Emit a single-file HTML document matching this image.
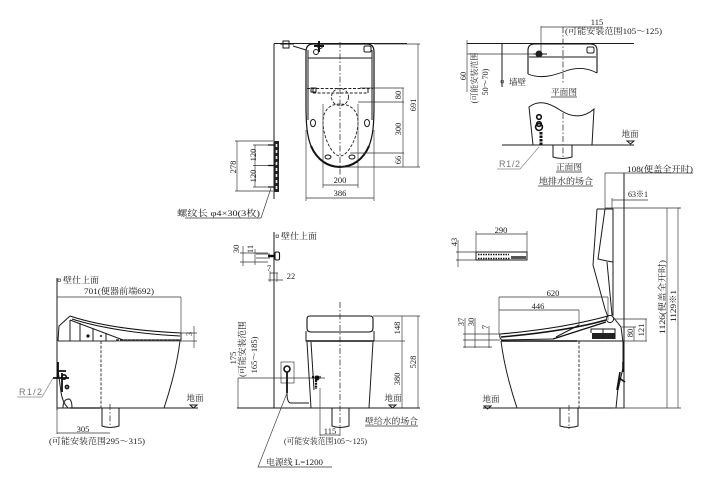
<!DOCTYPE html>
<html lang="zh"><head><meta charset="utf-8"><style>
html,body{margin:0;padding:0;background:#fff}
svg{display:block}
text{font-family:"Liberation Serif","Noto Serif CJK SC",serif;font-size:8.5px;fill:#1a1a1a}
.m{text-anchor:middle}
.g{font-family:"Liberation Sans",sans-serif;fill:#777;font-size:9px}
.d{stroke:#333;stroke-width:.65;fill:none}
.o{stroke:#1a1a1a;stroke-width:1;fill:none}
.t{stroke:#111;stroke-width:1.6;fill:none}
.c{stroke:#333;stroke-width:.8;fill:none;stroke-dasharray:6 2 1.5 2}
.h{stroke:#222;stroke-width:.9;fill:none;stroke-dasharray:3 1.6}
.k{fill:#111;stroke:none}
</style></head><body>
<svg width="712" height="487" viewBox="0 0 712 487" xmlns="http://www.w3.org/2000/svg">
<rect width="712" height="487" fill="#fff"/>

<!-- TOP PLAN -->
<path class="o" d="M274 43.5H407M274 43.5V199"/>
<path class="t" d="M306 52Q306 44 313 44H367Q374 44 374 52V105C374 124 373 136 369 146C363 160 352 167 340 167C328 167 317 160 311 146C307 136 306 124 306 105Z" style="stroke-width:1.2"/>
<path class="t" d="M311 146C317 160 328 167 340 167C352 167 363 160 369 146" style="stroke-width:2"/>
<path class="o" d="M308 50V120M372 50V120M308 58H372"/>
<path class="h" d="M307 88.5H373M313 93H368"/>
<path class="o" d="M313 88V93M368 88V93M311 88h5v4h-5z"/>
<circle cx="340" cy="97" r="8.5" class="h"/>
<path class="h" d="M340 104C329 104 323 111 323 122C323 137 332 156 340 156C348 156 358 137 358 122C358 111 351 104 340 104Z"/>
<ellipse cx="313" cy="123" rx="2.5" ry="3.6" class="o"/><ellipse cx="367" cy="123" rx="2.5" ry="3.6" class="o"/>
<ellipse cx="328" cy="157" rx="3" ry="2" class="o"/><ellipse cx="352" cy="157" rx="3" ry="2" class="o"/>
<rect x="364" y="46" width="7" height="6" rx="1.5" class="o"/>
<path class="c" d="M340 42V176"/>
<path class="t" d="M319 41V52M314 46H324" style="stroke-width:2"/><circle cx="316" cy="52" r="2.5" class="o"/><circle cx="320" cy="46" r="2.5" class="o"/>
<path class="o" d="M283 41h6v7h-6zM280 44H294M293 46L306 50"/>
<path class="d" d="M360 88H404M358 102H404M350 153H404M340 167H420M374 44H420"/>
<path class="d" d="M403 88V167M418 44V167M323 104V188M358 104V188M306 130V201M374 130V201"/>
<path class="d" d="M323 185H358M306 198H374"/>
<text x="340" y="183" class="m">200</text><text x="340" y="196" class="m">386</text>
<text class="m" transform="translate(401 95) rotate(-90)">80</text>
<text class="m" transform="translate(401 129) rotate(-90)">300</text>
<text class="m" transform="translate(401 160) rotate(-90)">66</text>
<text class="m" transform="translate(416 105) rotate(-90)">691</text>
<text class="m" transform="translate(236 167) rotate(-90)">278</text>
<text class="m" transform="translate(256 155) rotate(-90)">120</text>
<text class="m" transform="translate(256 176) rotate(-90)">120</text>
<rect x="274" y="141" width="5" height="51" fill="#222"/>
<path d="M276.5 144v3M276.5 150v3M276.5 156v3M276.5 162v3M276.5 168v3M276.5 174v3M276.5 180v3M276.5 186v3" stroke="#eee" stroke-width="1.6"/>
<path class="t" d="M268 145H274M268 165.5H274M268 187H274" style="stroke-width:1.2"/>
<path class="d" d="M235 141H273M235 191H273M253 145H268M253 165.5H268M253 187H268"/>
<path class="d" d="M237 141V191M255 145V187"/>
<text x="177" y="216" textLength="83" lengthAdjust="spacingAndGlyphs">螺纹长 φ4×30(3枚)</text>
<path class="d" d="M185 218H261L271 188"/>

<!-- PLAN RIGHT -->
<path class="o" d="M467 43.5H634M502 43.5V87"/>
<rect x="501" y="80.5" width="2.4" height="2.4" class="d"/>
<text x="509" y="85">墙壁</text>
<path class="t" d="M528 74V50Q528 44 535 44H590Q597 44 597 50V73" style="stroke-width:1.1"/>
<path class="t" d="M528 74C540 79 552 76 563 72C575 67 586 67 597 73" style="stroke-width:.9"/>
<path class="o" d="M529 57H596"/>
<rect x="587" y="47" width="7" height="6" rx="1.5" class="o"/>
<circle cx="539" cy="54" r="3" fill="#222" stroke="#222"/><path class="o" d="M533 54H547"/>
<path class="c" d="M563 27V84"/><path class="d" d="M541 26V52"/>
<path class="d" d="M541 27H603M467 54H535M467 40V54M467 43V92"/>
<text x="597" y="25" class="m">115</text>
<text x="565" y="34" textLength="97" lengthAdjust="spacingAndGlyphs">(可能安装范围105〜125)</text>
<text class="m" transform="translate(466 76) rotate(-90)">60</text>
<text class="m" transform="translate(477 78) rotate(-90)" style="font-size:8px">(可能安装范围</text>
<text class="m" transform="translate(488 82) rotate(-90)" style="font-size:8px">50〜70)</text>
<text x="564" y="95" class="m" textLength="26" lengthAdjust="spacingAndGlyphs">平面图</text><path class="d" d="M551 97H577"/>

<path class="o" d="M533 145L529 107C538 100 548 102 560 110C572 118 584 118 594 109L592 145"/>
<path class="o" d="M502 145H634" />
<path class="o" d="M553 145V157Q562 160 572 157V145"/>
<path class="c" d="M563 113V158"/>
<circle cx="539" cy="117" r="2.3" class="t"/><circle cx="539" cy="124" r="2.3" class="t"/><circle cx="539" cy="127" r="3.4" class="t"/>
<path class="t" d="M541 132V145" style="stroke-width:3;stroke-dasharray:2.5 1"/>
<text x="630" y="137" class="m">地面</text>
<path class="o" d="M627 141H634L630.5 144Z"/>
<text x="499" y="167" class="g" textLength="21" lengthAdjust="spacing">R1/2</text>
<path d="M497 169H520L539 147" stroke="#888" stroke-width=".7" fill="none"/>
<text x="569" y="170" class="m" textLength="26" lengthAdjust="spacingAndGlyphs">正面图</text><path class="d" d="M556 172H582"/>
<text x="566" y="184" class="m" textLength="54" lengthAdjust="spacingAndGlyphs">地排水的场合</text><path class="d" d="M538 186H593"/>

<!-- RIGHT SIDE VIEW -->
<path class="o" d="M624 173V408"/>
<path class="d" d="M605 173V208M612 198V208M605 173H624H693M612 200H648M605 208H681"/>
<text x="627" y="172" textLength="66" lengthAdjust="spacingAndGlyphs">108(便盖全开时)</text>
<text x="628" y="197" textLength="20" lengthAdjust="spacingAndGlyphs">63※1</text>
<path class="o" d="M597 209H613V262L607 261L598 259L605 209M613 262L613 316M607 262L612 315M597 209L593 265L605 309L608 317"/>
<circle cx="610" cy="319" r="3.6" class="o"/>
<path class="t" d="M500 334C535 331 575 325 608 316" style="stroke-width:1.1"/>
<path class="t" d="M501 337C535 334 575 329 606 320" style="stroke-width:1.5"/>
<path class="o" d="M500 334Q499 338 502 340L553 339"/>
<path class="t" d="M553 339L606 322" style="stroke-width:1.2"/>
<path class="o" d="M556 337L579 325"/>
<rect x="592" y="333" width="23" height="6" fill="#222"/>
<path class="o" d="M591 333V329H615V339M603 329V339"/>
<path class="o" d="M613 317L621 327L623 342L623 368L618 388L616 408M618 390L623 368"/>
<path class="t" d="M623 362V372M620 372L617 390M619 378L625 382" style="stroke-width:1.6"/>
<path class="t" d="M501 341H577" style="stroke-width:1.5"/>
<path class="o" d="M577 341H624"/>
<path class="o" d="M501 341C504 365 511 390 517 408M483 408H624"/>
<path class="t" d="M580 408H616" style="stroke-width:1.1"/>
<path class="h" d="M579 341V408"/>
<path class="o" d="M560 408V426Q569 429 578 426V408"/><path class="c" d="M569 405V429"/>
<path class="d" d="M476 234H527M476 231V252M527 231V252"/>
<text x="501" y="233" class="m">290</text>
<rect x="476" y="252" width="51" height="8" class="o"/>
<path d="M478 254.5H509M478 258.5H510" stroke="#111" stroke-width="1.6" stroke-dasharray="1.5 1"/>
<rect x="511" y="256" width="15" height="3" fill="#555"/>
<path class="d" d="M456 252H476M456 260H476M458 240V267"/>
<text class="m" transform="translate(457 242) rotate(-90)">43</text>
<path class="d" d="M499 297H608M499 310H579M499 297V334M579 310V325M608 297V320"/>
<text x="553" y="296" class="m">620</text><text x="538" y="309" class="m">446</text>
<path class="d" d="M465 318V348M475 318V348M489 326V348M463 334H500M463 340H500M463 347H492"/>
<text class="m" transform="translate(464 322) rotate(-90)">37</text>
<text class="m" transform="translate(474 322) rotate(-90)">30</text>
<text class="m" transform="translate(488 327) rotate(-90)">7</text>
<path class="d" d="M667 208V408M678 208V408M613 408H681M678 208H680M615 319H647M622 327H636M623 341H647M634 327V341M646 319V341"/>
<text class="m" transform="translate(665 297) rotate(-90)" textLength="74" lengthAdjust="spacingAndGlyphs">1126(便盖全开时)</text>
<text class="m" transform="translate(676 306) rotate(-90)" textLength="32" lengthAdjust="spacingAndGlyphs">1129※1</text>
<text class="m" transform="translate(633 333) rotate(-90)">80</text>
<text class="m" transform="translate(644 330) rotate(-90)">121</text>
<text x="491" y="402" class="m">地面</text><path class="o" d="M484 406H491L487.5 409Z"/>

<!-- LEFT SIDE VIEW -->
<path class="o" d="M57 278V410"/><rect x="58" y="279" width="2.4" height="2.4" class="d"/>
<text x="63" y="283" textLength="36" lengthAdjust="spacingAndGlyphs">壁仕上面</text>
<path class="d" d="M57 297H181M181 297V333"/>
<text x="119" y="294" class="m" textLength="70" lengthAdjust="spacingAndGlyphs">701(便器前端692)</text>
<path class="t" d="M70 316C100 326 140 331 181 333" style="stroke-width:1.1"/>
<path class="t" d="M72 319C100 328 140 334 180 336" style="stroke-width:1"/>
<path class="o" d="M70 316L59 326L58 341M181 333V340L123 340L70 320"/>
<path class="o" d="M70 320V341M80 323V341M93 328V341M106 333V341"/><circle cx="88" cy="336" r="1.6" class="k"/><circle cx="101" cy="336" r="1" class="k"/>
<path class="t" d="M116 340H180" style="stroke-width:1.2;stroke-dasharray:3 1"/>
<path class="o" d="M58 341H116"/>
<path class="o" d="M180 341C177 365 170 390 164 408"/>
<path class="h" d="M101 341V408"/>
<path class="o" d="M57 408H198"/><path class="t" d="M70 408H100" style="stroke-width:1.2"/>
<path class="o" d="M58 370L61 392C62 400 65 405 68 408M63 408Q63 399 69 399Q72 400 72 408"/>
<path class="o" d="M102 408V426Q110 429 119 426V408"/><path class="c" d="M110 404V428"/>
<path class="t" d="M53 378H69M58 362V378M62 373V392M57 371H66" style="stroke-width:1.8"/><circle cx="64" cy="377" r="2.2" class="t"/><circle cx="67" cy="387" r="1.6" class="t"/>
<path class="d" d="M181 333H197M58 341H197M194 326V348"/>
<text class="m" transform="translate(192 334) rotate(-90)">3</text>
<text x="19" y="395" class="g" textLength="23" lengthAdjust="spacing">R1/2</text>
<path d="M17 397H42L53 378" stroke="#888" stroke-width=".7" fill="none"/>
<text x="195" y="401" class="m">地面</text><path class="o" d="M190 405H197L193.5 408Z"/>
<path class="d" d="M57 408V434M57 433H110"/>
<text x="83" y="432" class="m">305</text>
<text x="49" y="444" textLength="96" lengthAdjust="spacingAndGlyphs">(可能安装范围295〜315)</text>

<!-- MIDDLE FRONT VIEW -->
<path class="o" d="M274 232V408"/><rect x="276" y="235" width="2.4" height="2.4" class="d"/>
<text x="281" y="239" textLength="36" lengthAdjust="spacingAndGlyphs">壁仕上面</text>
<rect x="275" y="252" width="4.5" height="8" rx="1.5" class="t" style="stroke-width:1.1"/>
<path class="t" d="M268 256H275" style="stroke-width:2.5"/>
<path class="d" d="M240 253H268M240 262H268M243 246V266M255 249V265M256 254H270M256 258H270"/>
<text class="m" transform="translate(239 249) rotate(-90)">30</text>
<text class="m" transform="translate(253 249) rotate(-90)">11</text>
<path class="d" d="M270 273H278M268 280H283M270 271V282M277 273V282"/>
<text x="269" y="271" class="m">7</text><text x="291" y="279" class="m">22</text>
<path class="t" d="M307 319Q307 316 310 316H370Q373 316 373 319V328Q373 332 369 332H311Q307 332 307 328Z" style="stroke-width:1.1"/>
<path class="o" d="M306 331V341H374V331"/><path class="t" d="M306 341H374" style="stroke-width:1.5"/>
<path class="o" d="M307 342L311 408M373 342L369 408M311 342L314 390"/>
<path class="c" d="M340 302V427"/>
<path class="o" d="M237 408H420"/>
<path class="o" d="M332 408V426Q340 429 349 426V408"/>
<rect x="281" y="362" width="13" height="21" class="d"/>
<circle cx="287" cy="369" r="3" class="t"/>
<path class="t" d="M287 372V393" style="stroke-width:1.8"/>
<path class="o" d="M287 393Q287 403 291 403H309"/>
<path class="d" d="M238 378H325M238 378V408"/>
<circle cx="317" cy="378" r="2.5" class="k"/><path class="t" d="M316 380V389M312 377H321" style="stroke-width:2.2;stroke-dasharray:2 .8"/>
<text class="m" transform="translate(236 358) rotate(-90)">175</text>
<text class="m" transform="translate(245 349) rotate(-90)" textLength="56" lengthAdjust="spacingAndGlyphs">(可能安装范围</text>
<text class="m" transform="translate(257 355) rotate(-90)">165〜185)</text>
<path class="d" d="M373 316H420M374 341H405M402 316V408M418 316V408"/>
<text class="m" transform="translate(400 328) rotate(-90)">148</text>
<text class="m" transform="translate(400 379) rotate(-90)">380</text>
<text class="m" transform="translate(416 362) rotate(-90)">528</text>
<text x="393" y="401" class="m">地面</text><path class="o" d="M389 405H396L392.5 408Z"/>
<text x="365" y="424" textLength="53" lengthAdjust="spacingAndGlyphs">壁给水的场合</text><path class="d" d="M365 426H418"/>
<path class="d" d="M320 388V436M340 428V436M320 435H340"/>
<text x="330" y="434" class="m">115</text>
<text x="284" y="444" textLength="83" lengthAdjust="spacingAndGlyphs">(可能安装范围105〜125)</text>
<text x="266" y="465" textLength="57" lengthAdjust="spacingAndGlyphs">电源线 L=1200</text>
<path class="d" d="M332 467H258L287 393"/>
</svg>
</body></html>
